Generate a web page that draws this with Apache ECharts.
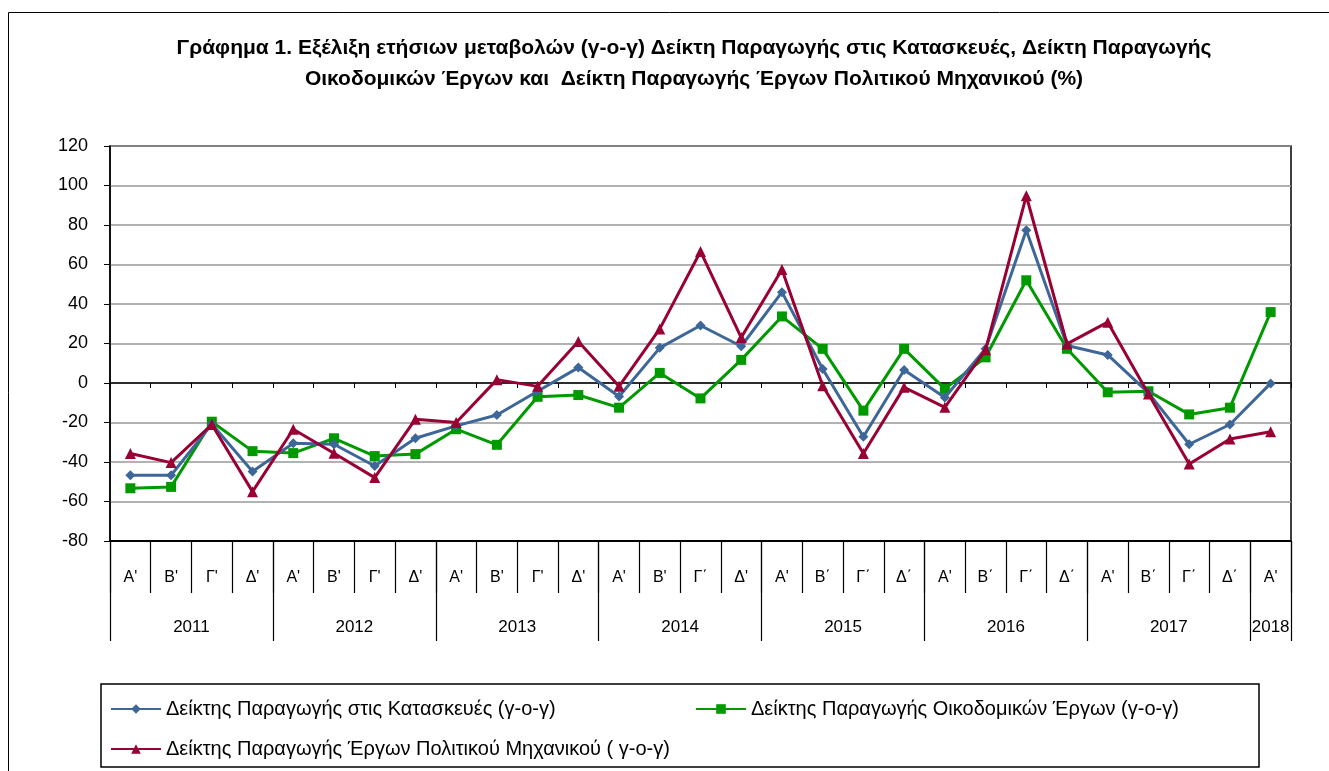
<!DOCTYPE html>
<html>
<head>
<meta charset="utf-8">
<style>
  html, body { margin: 0; padding: 0; background: #fff; }
  #main { position: relative; width: 1329px; height: 771px; }
</style>
<script src="https://cdn.jsdelivr.net/npm/echarts@6/dist/echarts.min.js"></script>
</head>
<body>
<div id="main"></div>
<script>
const years = ['2011', '2012', '2013', '2014', '2015', '2016', '2017', '2018'];
const quarters = [
  'Α\'', 'Β\'', 'Γ\'', 'Δ\'',
  'Α\'', 'Β\'', 'Γ\'', 'Δ\'',
  'Α\'', 'Β\'', 'Γ\'', 'Δ\'',
  'Α\'', 'Β\'', 'Γ΄', 'Δ\'',
  'Α\'', 'Β΄', 'Γ΄', 'Δ΄',
  'Α\'', 'Β΄', 'Γ΄', 'Δ΄',
  'Α\'', 'Β΄', 'Γ΄', 'Δ΄',
  'Α\''
];
const quartersPerYear = [4, 4, 4, 4, 4, 4, 4, 1];

const construction = [-46.7, -46.7, -20.8, -44.8, -30.5, -31, -42, -28, -21.7, -16.2, -4.2, 7.8,
  -6.8, 17.8, 29.1, 18.6, 46, 7.1, -27.2, 6.6, -7.3, 17.3, 77.3, 19, 14.2, -5, -31, -21, -0.2];
const buildings = [-53.3, -52.6, -19.6, -34.5, -35.5, -28, -37, -36, -23.4, -31.3, -7, -6.1,
  -12.5, 5.1, -7.8, 11.7, 33.7, 17.3, -14, 17.3, -3, 13, 52, 17.3, -4.7, -4.2, -15.9, -12.5, 35.9];
const civil = [-35.7, -40.3, -21, -55, -23.4, -35.6, -47.9, -18.3, -20, 1.7, -1.7, 21,
  -1.7, 27.4, 66.6, 23, 57.5, -1.4, -35.7, -2.2, -12.3, 16.8, 94.8, 19.8, 30.8, -5.6, -41, -28.4, -24.7];

const names = [
  'Δείκτης Παραγωγής στις Κατασκευές (γ-ο-γ)',
  'Δείκτης Παραγωγής Οικοδομικών Έργων (γ-ο-γ)',
  'Δείκτης Παραγωγής Έργων Πολιτικού Μηχανικού ( γ-ο-γ)'
];

// year boundaries and year label centres on a 0..29 scale
const yearEdges = [0];
const yearMids = [];
quartersPerYear.forEach(n => {
  const start = yearEdges[yearEdges.length - 1];
  yearMids.push(start + n / 2);
  yearEdges.push(start + n);
});

const font = "'Liberation Sans', Arial, sans-serif";
const chart = echarts.init(document.getElementById('main'));

chart.setOption({
  animation: false,
  textStyle: { fontFamily: font },
  title: {
    text: 'Γράφημα 1. Εξέλιξη ετήσιων μεταβολών (γ-ο-γ) Δείκτη Παραγωγής στις Κατασκευές, Δείκτη Παραγωγής\nΟικοδομικών Έργων και  Δείκτη Παραγωγής Έργων Πολιτικού Μηχανικού (%)',
    left: 689,
    top: 28,
    textAlign: 'center',
    textStyle: { fontFamily: font, fontSize: 21, fontWeight: 'bold', color: '#000', lineHeight: 31 }
  },
  graphic: [
    { type: 'rect', shape: { x: 8.5, y: 12.5, width: 1400, height: 800 }, style: { fill: 'none', stroke: '#000', lineWidth: 1 }, silent: true },
    { type: 'rect', shape: { x: 101, y: 684, width: 1158, height: 83 }, style: { fill: 'none', stroke: '#000', lineWidth: 1.5 }, silent: true }
  ],
  legend: [
    { data: [names[0]], left: 110, top: 699 },
    { data: [names[1]], left: 695, top: 699 },
    { data: [names[2]], left: 110, top: 739 }
  ].map(l => Object.assign(l, {
    padding: 0, itemWidth: 50, itemHeight: 12, itemGap: 5, selectedMode: false,
    textStyle: { fontFamily: font, fontSize: 20, color: '#000' }
  })),
  grid: { left: 110, right: 38, top: 146, bottom: 230, show: true, borderColor: '#000', borderWidth: 1.5 },
  xAxis: [
    {
      type: 'category', data: quarters, position: 'bottom',
      axisLine: { onZero: true, lineStyle: { color: '#000', width: 1.5 } },
      axisTick: { show: true, interval: 0, length: 5, lineStyle: { color: '#000' } },
      axisLabel: { show: false }
    },
    {
      type: 'category', data: quarters, position: 'bottom',
      axisLine: { onZero: false, lineStyle: { color: '#000', width: 2 } },
      axisTick: { show: true, interval: 0, length: 52, lineStyle: { color: '#000', width: 1.2 } },
      axisLabel: { interval: 0, margin: 29, fontSize: 16, color: '#000', fontFamily: font }
    },
    {
      type: 'value', min: 0, max: 29, position: 'bottom',
      axisLine: { show: false, onZero: false },
      splitLine: { show: false },
      axisTick: { show: true, customValues: yearEdges, length: 100, lineStyle: { color: '#000', width: 1.2 } },
      axisLabel: {
        customValues: yearMids, margin: 78, fontSize: 17, color: '#000', fontFamily: font,
        formatter: v => years[yearMids.indexOf(v)]
      }
    }
  ],
  yAxis: {
    type: 'value', min: -80, max: 120, interval: 20,
    axisLine: { show: true, lineStyle: { color: '#000', width: 1.5 } },
    axisTick: { show: true, length: 6, lineStyle: { color: '#000' } },
    axisLabel: { margin: 22, fontSize: 18, color: '#000', fontFamily: font },
    splitLine: { lineStyle: { color: '#999', width: 1.5 } }
  },
  series: [
    {
      name: names[0], type: 'line', data: construction,
      symbol: 'diamond', symbolSize: 10,
      lineStyle: { color: '#3D6699', width: 3 }, itemStyle: { color: '#3D6699' }, z: 4
    },
    {
      name: names[1], type: 'line', data: buildings,
      symbol: 'rect', symbolSize: 10,
      lineStyle: { color: '#009900', width: 3 }, itemStyle: { color: '#009900' }, z: 3
    },
    {
      name: names[2], type: 'line', data: civil,
      symbol: 'triangle', symbolSize: 11,
      lineStyle: { color: '#990033', width: 3 }, itemStyle: { color: '#990033' }, z: 5
    }
  ]
});
</script>
</body>
</html>
